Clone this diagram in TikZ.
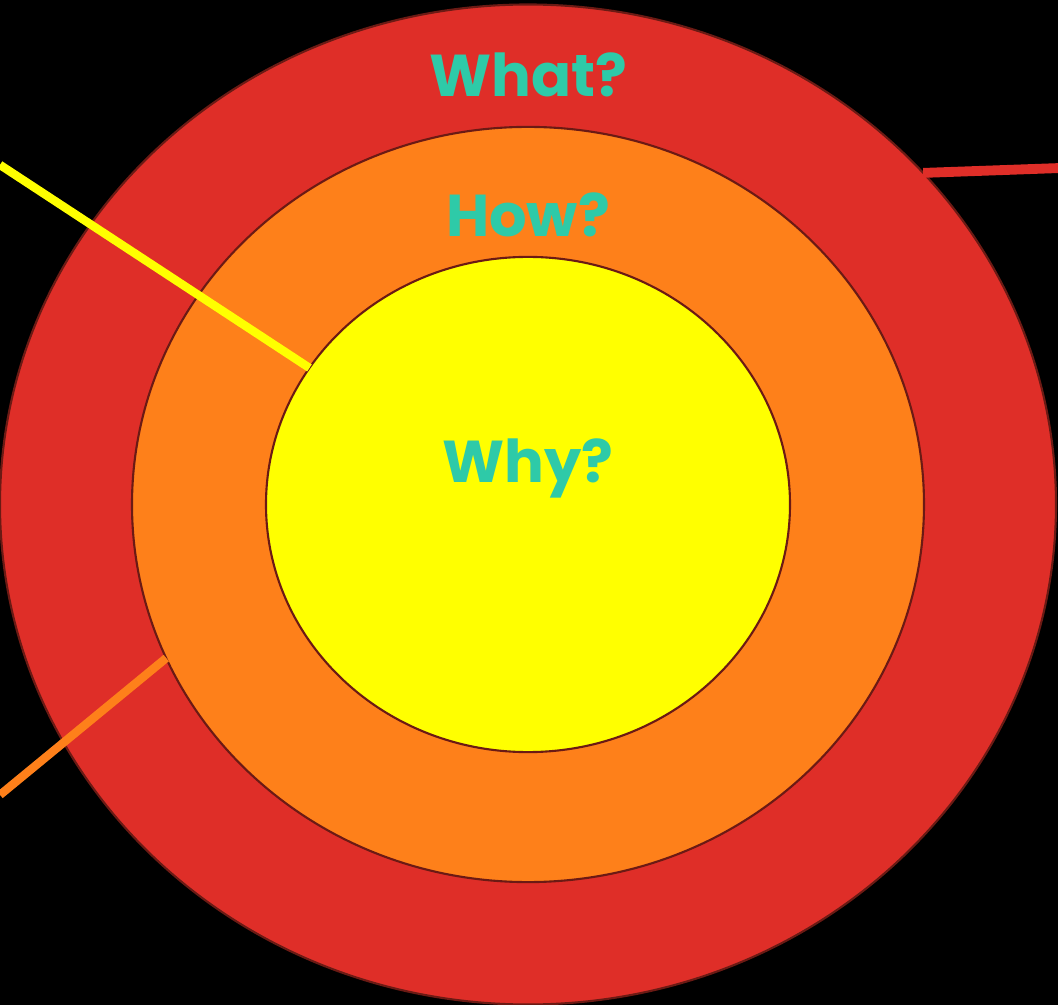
\documentclass[tikz,border=0pt]{standalone}
\usepackage{fontspec}
\usepackage{tikz}
\usetikzlibrary{shapes.geometric}
\newfontfamily\ringfont{Poppins}
\definecolor{ring700} {HTML}{6B1A14}
\definecolor{red500}  {HTML}{DF2E28}
\definecolor{orange500}{HTML}{FE801A}
\definecolor{yellow500}{HTML}{FFFF00}
\definecolor{teal500} {HTML}{2ECAA8}
\tikzset{
  ring/.style  ={ellipse, draw=ring700, line width=1.5pt, inner sep=0pt,
                 outer sep=0pt},
  ringr/.style ={ring, fill=red500},
  ringo/.style ={ring, fill=orange500},
  ringy/.style ={ring, fill=yellow500},
  qlabel/.style={font=\ringfont\bfseries\fontsize{42}{42}\selectfont,
                 text=teal500, inner sep=0pt, anchor=base},
  spoke/.style ={line width=6pt, line cap=butt}
}
\begin{document}
\begin{tikzpicture}
\fill[black] (-13.2,-12.5125) rectangle (13.25,12.6125);
\useasboundingbox (-13.2,-12.5125) rectangle (13.25,12.6125);

\node[ringr, minimum width=26.4cm, minimum height=25cm] (what) at (0,0) {};
\node[ringo, minimum width=19.8cm, minimum height=18.88cm] (how) at (0,0) {};
\node[ringy, minimum width=13.1cm, minimum height=12.38cm] (why) at (0,0) {};

\node[qlabel] (whatlbl) at (0,10.19) {What?};
\node[qlabel] (howlbl)  at (0,6.7)  {How?};
\node[qlabel] (whylbl)  at (0,0.56) {Why?};

% the three spokes leave the picture to the left and to the right
\coordinate (yend) at (-13.2,8.49);
\coordinate (oend) at (-13.2,-7.26);
\coordinate (rend) at (13.25,8.41);
\draw[spoke, draw=yellow500] (why.148) -- (yend);
\draw[spoke, draw=orange500] (how.203.5) -- (oend);
\draw[spoke, draw=red500, line width=7pt] (what.40.2) -- (rend);
\end{tikzpicture}
\end{document}
